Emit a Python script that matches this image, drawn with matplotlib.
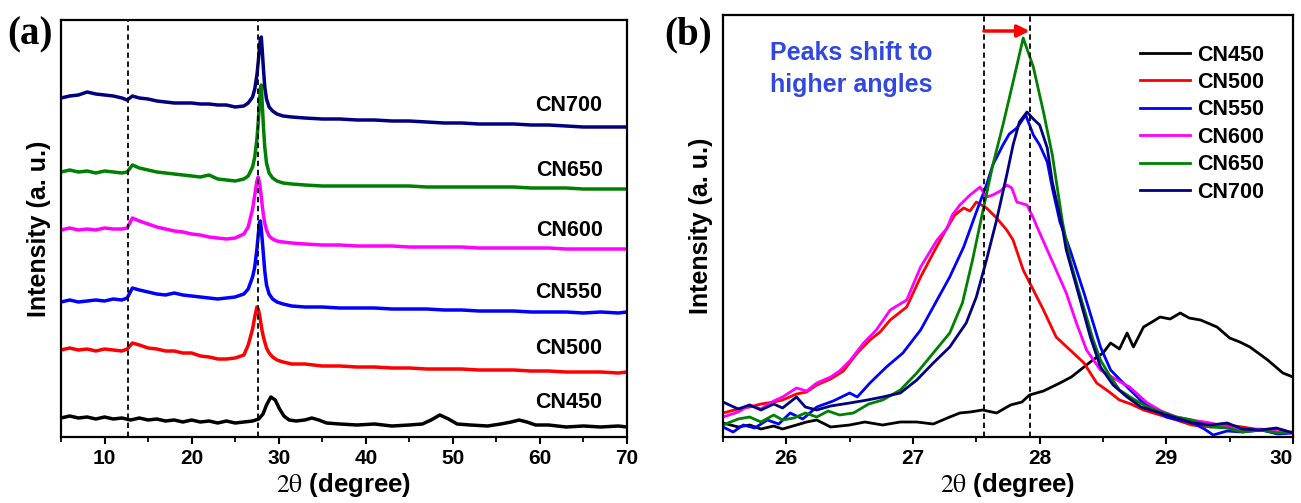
import matplotlib
matplotlib.use("Agg")
import matplotlib.pyplot as plt
from matplotlib.ticker import MultipleLocator

plt.rcParams['font.family'] = ['Liberation Sans', 'DejaVu Sans']
plt.rcParams['mathtext.fontset'] = 'stix'

# ---------------- Panel (a) data ----------------
samples = ["CN450", "CN500", "CN550", "CN600", "CN650", "CN700"]
colors = ["#000000", "#ff0000", "#0000ff", "#ff00ff", "#008000", "#000080"]

x450a = [5, 6, 7, 8, 9, 10, 11, 12, 13, 14, 15, 16, 17, 18, 19, 20, 21, 22, 23, 24,
         25, 26, 27, 27.7, 28.2, 28.6, 29.1, 29.6, 30.1, 30.6, 31.2, 32, 33, 33.8, 34.6, 35.5, 37, 39, 41, 43,
         45, 46.5, 47.5, 48.5, 49.5, 50.5, 52, 54, 55.5, 56.7, 57.6, 58.5, 59.5, 61, 63, 65, 67, 69, 70]
y450a = [19, 21, 19, 20, 18, 20, 18, 19, 17, 19, 17, 18, 16, 17, 15, 17, 15, 16, 14, 16,
         14, 15, 16, 18, 23, 32, 40, 37, 28, 21, 17, 16, 17, 19, 17, 14, 13, 12, 13, 11,
         12, 13, 17, 22, 18, 13, 12, 11, 13, 15, 17, 15, 12, 12, 10, 11, 10, 11, 10]

xca = [5, 6, 7, 8, 9, 10, 11, 12, 12.6, 13.2, 14, 15, 16, 17, 18, 19, 20, 21, 22, 23,
       24, 25, 26, 26.5, 27, 27.25, 27.5, 27.65, 27.8, 27.9, 28, 28.1, 28.25, 28.4, 28.6, 28.9, 29.3, 29.8, 30.5, 31.5,
       33, 35, 37, 39, 41, 43, 45, 47, 49, 51, 53, 55, 57, 59, 61, 63, 65, 67, 69, 70]
y500a = [87, 89, 87, 88, 86, 88, 87, 86, 88, 94, 92, 89, 88, 86, 86, 84, 84, 81, 80, 78,
         78, 79, 82, 92, 108, 120, 130, 128, 122, 117, 111, 106, 100, 95, 89, 84, 80, 77, 75, 73,
         73, 71, 71, 70, 70, 69, 69, 68, 68, 68, 67, 67, 67, 66, 66, 65, 65, 65, 64, 65]
y550a = [135, 137, 135, 136, 137, 136, 138, 137, 139, 149, 147, 145, 143, 142, 144, 142, 141, 140, 139, 138,
         139, 140, 143, 148, 160, 170, 188, 202, 215, 216, 208, 198, 182, 166, 152, 143, 138, 135, 133, 131,
         130, 130, 129, 129, 129, 128, 128, 128, 127, 127, 126, 126, 126, 125, 125, 125, 124, 125, 124, 125]
y600a = [207, 209, 207, 208, 207, 209, 208, 208, 209, 219, 216, 213, 210, 208, 206, 205, 203, 202, 200, 199,
         198, 199, 203, 210, 228, 242, 256, 260, 254, 248, 240, 232, 222, 214, 207, 201, 198, 196, 195, 194,
         193, 192, 192, 191, 191, 191, 190, 190, 190, 190, 189, 189, 189, 189, 189, 188, 188, 188, 188, 188]
y650a = [265, 267, 265, 266, 264, 266, 265, 264, 265, 272, 269, 267, 265, 264, 263, 262, 261, 260, 262, 258,
         257, 256, 258, 261, 270, 280, 298, 315, 335, 348, 352, 335, 310, 290, 274, 264, 259, 256, 254, 253,
         252, 251, 251, 251, 251, 251, 251, 250, 250, 250, 250, 250, 250, 249, 249, 249, 248, 248, 248, 248]
y700a = [339, 341, 342, 345, 343, 342, 341, 339, 337, 341, 339, 338, 336, 335, 334, 334, 334, 333, 333, 332,
         332, 330, 331, 334, 340, 348, 362, 375, 390, 398, 400, 388, 368, 350, 338, 330, 326, 323, 321, 320,
         319, 318, 318, 317, 317, 316, 316, 315, 314, 314, 313, 313, 313, 312, 312, 311, 310, 310, 310, 310]
label_pos_a = [34, 89, 145, 207, 267, 332]
dashed_a = [12.7, 27.6]
xticks_a = [10, 20, 30, 40, 50, 60, 70]

# ---------------- Panel (b) data ----------------
x450b = [25.5, 25.62, 25.71, 25.8, 25.9, 25.97, 26.08, 26.16, 26.24, 26.35, 26.5, 26.62, 26.76, 26.9, 27.03, 27.16,
         27.29, 27.37, 27.45, 27.55, 27.66, 27.77, 27.86, 27.92, 28.03, 28.16, 28.25, 28.32, 28.42, 28.5, 28.56,
         28.63, 28.69, 28.74, 28.82, 28.9, 28.95, 29.03, 29.11, 29.18, 29.27, 29.4, 29.5, 29.58, 29.66, 29.8, 29.92, 30.0]
y450b = [14, 10, 12, 8, 11, 8, 12, 15, 17, 10, 12, 15, 12, 15, 15, 13, 20, 24, 25, 27, 24, 32, 35, 42, 46, 54,
         60, 67, 77, 84, 94, 88, 104, 90, 110, 116, 120, 118, 124, 119, 117, 110, 99, 95, 90, 77, 64, 60]
x500b = [25.5, 25.62, 25.71, 25.8, 25.9, 25.97, 26.08, 26.16, 26.24, 26.35, 26.45, 26.56, 26.66, 26.74, 26.82, 26.95,
         27.06, 27.16, 27.25, 27.33, 27.4, 27.45, 27.5, 27.58, 27.66, 27.74, 27.79, 27.87, 27.95, 28.03, 28.13, 28.24,
         28.35, 28.45, 28.55, 28.63, 28.72, 28.82, 28.95, 29.08, 29.2, 29.35, 29.48, 29.6, 29.75, 29.88, 30.0]
y500b = [24, 28, 30, 33, 35, 37, 43, 45, 52, 58, 66, 84, 97, 105, 117, 130, 160, 184, 205, 222, 229, 226, 235,
         229, 219, 207, 197, 167, 147, 127, 100, 87, 74, 54, 45, 37, 33, 27, 22, 17, 12, 10, 12, 10, 7, 8, 4]
x550b = [25.5, 25.58, 25.66, 25.75, 25.85, 25.94, 26.03, 26.13, 26.24, 26.37, 26.5, 26.56, 26.66, 26.79, 26.92,
         27.06, 27.19, 27.29, 27.4, 27.5, 27.58, 27.63, 27.71, 27.76, 27.82, 27.89, 27.95, 28.0, 28.06, 28.1, 28.16,
         28.24, 28.35, 28.48, 28.56, 28.69, 28.82, 29.0, 29.1, 29.21, 29.3, 29.37, 29.48, 29.6, 29.75, 29.88, 30.0]
y550b = [10, 5, 12, 9, 17, 13, 24, 18, 30, 36, 44, 40, 54, 70, 84, 107, 137, 160, 190, 225, 252, 272, 292, 303,
         309, 322, 302, 292, 275, 249, 215, 187, 144, 90, 67, 50, 34, 20, 17, 14, 8, 2, 6, 5, 7, 3, 4]
x600b = [25.5, 25.62, 25.71, 25.8, 25.9, 25.97, 26.08, 26.16, 26.24, 26.35, 26.42, 26.5, 26.61, 26.71, 26.82,
         26.95, 27.06, 27.19, 27.27, 27.31, 27.37, 27.45, 27.53, 27.58, 27.63, 27.69, 27.74, 27.78, 27.82, 27.9,
         27.95, 27.99, 28.06, 28.13, 28.21, 28.29, 28.37, 28.48, 28.61, 28.71, 28.85, 28.96, 29.08, 29.2, 29.35,
         29.48, 29.6, 29.75, 29.88, 30.0]
y600b = [20, 25, 32, 28, 36, 40, 49, 46, 54, 60, 66, 76, 94, 107, 127, 137, 170, 197, 209, 222, 232, 242, 250,
         240, 242, 246, 252, 249, 235, 232, 219, 207, 187, 167, 144, 114, 87, 67, 57, 50, 34, 26, 20, 17, 14, 10,
         7, 8, 5, 4]
x650b = [25.5, 25.62, 25.71, 25.8, 25.9, 25.97, 26.06, 26.15, 26.24, 26.33, 26.42, 26.53, 26.65, 26.76, 26.9,
         27.03, 27.16, 27.29, 27.39, 27.47, 27.55, 27.63, 27.71, 27.79, 27.87, 27.95, 28.03, 28.1, 28.18, 28.24,
         28.3, 28.37, 28.42, 28.48, 28.55, 28.63, 28.74, 28.85, 28.96, 29.08, 29.2, 29.35, 29.48, 29.6, 29.75,
         29.88, 30.0]
y650b = [12, 18, 20, 15, 22, 17, 19, 24, 20, 26, 22, 24, 33, 37, 47, 64, 84, 104, 134, 177, 225, 272, 312, 355,
         399, 370, 325, 282, 215, 177, 150, 120, 98, 77, 62, 47, 38, 30, 25, 20, 17, 10, 9, 5, 7, 4, 5]
x700b = [25.5, 25.62, 25.71, 25.8, 25.9, 25.97, 26.08, 26.15, 26.24, 26.35, 26.5, 26.64, 26.76, 26.9, 27.03,
         27.16, 27.29, 27.42, 27.5, 27.58, 27.66, 27.74, 27.79, 27.84, 27.9, 27.95, 28.0, 28.06, 28.1, 28.18, 28.21,
         28.32, 28.4, 28.48, 28.58, 28.69, 28.8, 28.95, 29.08, 29.21, 29.35, 29.48, 29.6, 29.74, 29.87, 30.0]
y700b = [35, 28, 32, 27, 33, 29, 40, 30, 27, 31, 34, 37, 40, 44, 57, 74, 90, 114, 140, 177, 217, 262, 292, 315,
         325, 318, 312, 289, 255, 209, 187, 137, 100, 70, 52, 40, 30, 24, 19, 14, 12, 14, 8, 7, 9, 4]
dashed_b = [27.56, 27.92]
xticks_b = [26, 27, 28, 29, 30]

# ---------------- Figure ----------------
fig = plt.figure(figsize=(13.01, 5.03), dpi=100)
W, H = 1301, 503
axa = fig.add_axes([61 / W, (H - 437) / H, 566 / W, 417 / H])
axb = fig.add_axes([723 / W, (H - 437) / H, 570 / W, 422 / H])

series_a = [(x450a, y450a), (xca, y500a), (xca, y550a), (xca, y600a), (xca, y650a), (xca, y700a)]
for (xs, ys), c in zip(series_a, colors):
    axa.plot(xs, ys, color=c, lw=2.5, solid_joinstyle='round')
for name, yp in zip(samples, label_pos_a):
    axa.text(67.2, yp, name, ha='right', va='center', fontsize=15.5, fontweight='bold')
for xd in dashed_a:
    axa.axvline(xd, color='black', lw=1.3, ls=(0, (3, 2)))
axa.set_xlim(5, 70)
axa.set_ylim(0, 417)
axa.set_xticks(xticks_a)
axa.xaxis.set_minor_locator(MultipleLocator(5))
axa.set_yticks([])

series_b = [(x450b, y450b), (x500b, y500b), (x550b, y550b), (x600b, y600b), (x650b, y650b), (x700b, y700b)]
for (xs, ys), c, name in zip(series_b, colors, samples):
    axb.plot(xs, ys, color=c, lw=2.0, label=name)
for xd in dashed_b:
    axb.axvline(xd, color='black', lw=1.3, ls=(0, (3, 2)))
axb.annotate('', xy=(dashed_b[1], 406), xytext=(dashed_b[0], 406),
             arrowprops=dict(arrowstyle='-|>', color='#ff0000', lw=2.5, mutation_scale=18,
                             shrinkA=0, shrinkB=0))
axb.text(26.51, 368, "Peaks shift to\nhigher angles", color='#3048e0', fontsize=18,
         fontweight='bold', ha='center', va='center', linespacing=1.45)
axb.set_xlim(25.5, 30)
axb.set_ylim(0, 422)
axb.set_xticks(xticks_b)
axb.xaxis.set_minor_locator(MultipleLocator(0.5))
axb.set_yticks([])
leg = axb.legend(loc='upper left', bbox_to_anchor=((1140 - 723) / 570, 0.93), frameon=False,
                 prop={'weight': 'bold', 'size': 15.5}, handlelength=2.3, handletextpad=0.35,
                 labelspacing=0.3, borderpad=0, borderaxespad=0)

for ax in (axa, axb):
    for sp in ax.spines.values():
        sp.set_linewidth(1.6)
    ax.tick_params(axis='x', which='major', direction='out', length=5, width=1.5, pad=4,
                   labelsize=15, top=False)
    ax.tick_params(axis='x', which='minor', direction='out', length=3.5, width=1.3, top=False)
    for lab in ax.get_xticklabels():
        lab.set_fontweight('bold')
    ax.set_xlabel(r"$\mathrm{2\theta}$ (degree)", fontsize=18.5, fontweight='bold', labelpad=2)
    ax.set_ylabel("Intensity (a. u.)", fontsize=18, fontweight='bold', labelpad=7)

# keep the last tick label of panel (b) inside the picture
fig.canvas.draw()
axb.get_xticklabels()[-1].set_horizontalalignment('right')
axb.get_xticklabels()[-1].set_x(30.03)

fig.text(7 / W, 1 - 35 / H, "(a)", family='Liberation Serif', fontweight='bold', fontsize=28,
         ha='left', va='center')
fig.text(664 / W, 1 - 35 / H, "(b)", family='Liberation Serif', fontweight='bold', fontsize=28,
         ha='left', va='center')

fig.savefig("out.png", dpi=100)
